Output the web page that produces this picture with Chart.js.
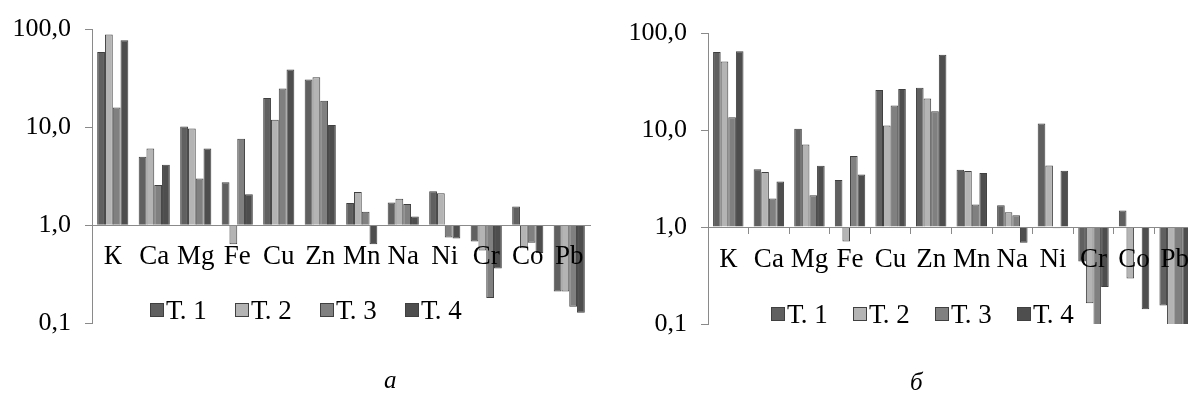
<!DOCTYPE html>
<html>
<head>
<meta charset="utf-8">
<script src="https://cdn.jsdelivr.net/npm/chart.js@4.4.1/dist/chart.umd.min.js"></script>
<style>
  html, body { margin: 0; padding: 0; background: #fff; }
  body { width: 1188px; height: 397px; overflow: hidden; position: relative; font-family: "Liberation Serif", serif; }
  .box { position: absolute; top: 0; height: 397px; }
  #boxA { left: 0; width: 600px; }
  #boxB { left: 616px; width: 584px; }
  .legend { position: absolute; display: flex; font-size: 27px; color: #000; line-height: 28px; }
  .legend .item { display: flex; align-items: center; }
  .legend .mark { width: 12px; height: 12px; border: 1px solid #404040; margin-right: 2px; }
  #legendA { left: 150px; top: 296px; }
  #legendA .item { width: 85px; }
  #legendB { left: 771px; top: 300px; }
  #legendB .item { width: 82px; }
  .caption { position: absolute; font-size: 25px; font-style: italic; }
  #capA { left: 384px; top: 366px; }
  #capB { left: 910px; top: 368px; }
</style>
</head>
<body>
<div class="box" id="boxA"><canvas id="chartA"></canvas></div>
<div class="box" id="boxB"><canvas id="chartB"></canvas></div>
<div class="legend" id="legendA"></div>
<div class="legend" id="legendB"></div>
<div class="caption" id="capA">а</div>
<div class="caption" id="capB">б</div>
<script>
// категории (элементы)
const elements = ['К', 'Ca', 'Mg', 'Fe', 'Cu', 'Zn', 'Mn', 'Na', 'Ni', 'Cr', 'Co', 'Pb'];
const seriesNames = ['Т. 1', 'Т. 2', 'Т. 3', 'Т. 4'];

// подписи логарифмической оси
const tickValues = [0.1, 1, 10, 100];
const tickLabels = ['0,1', '1,0', '10,0', '100,0'];

// рисунок а
const a_t1 = [59, 5.0, 10.2, 2.75, 20, 30.9, 1.69, 1.71, 2.23, 0.68, 1.55, 0.21];
const a_t2 = [89, 6.1, 9.75, 0.64, 12, 32.6, 2.19, 1.86, 2.12, 0.55, 0.58, 0.21];
const a_t3 = [16, 2.58, 3.0, 7.67, 25, 18.7, 1.37, 1.65, 0.75, 0.18, 0.66, 0.147];
const a_t4 = [78, 4.15, 6.1, 2.07, 39, 10.6, 0.64, 1.23, 0.73, 0.36, 0.52, 0.127];

// рисунок б
const b_t1 = [63.7, 3.95, 10.3, 3.05, 25.9, 27.2, 3.9, 1.68, 11.7, 0.44, 1.48, 0.155];
const b_t2 = [50.7, 3.7, 7.1, 0.71, 11.1, 21.1, 3.77, 1.42, 4.31, 0.164, 0.295, 0.09];
const b_t3 = [13.5, 1.97, 2.13, 5.38, 17.9, 15.6, 1.71, 1.32, 0.97, 0.09, 1.0, 0.09];
const b_t4 = [64.7, 2.95, 4.28, 3.48, 26.5, 59.8, 3.6, 0.69, 3.8, 0.24, 0.142, 0.09];

const fills = ['#606060', '#b4b4b4', '#808080', '#4e4e4e'];
const axisColor = '#8a8a8a';

Chart.defaults.font.family = '"Liberation Serif", serif';
Chart.defaults.color = '#000';

function makeChart(id, series, pad, withTicks) {
  return new Chart(document.getElementById(id), {
    type: 'bar',
    data: {
      labels: elements,
      datasets: series.map((vals, i) => ({
        label: seriesNames[i],
        data: vals,
        base: 1,
        backgroundColor: fills[i],
        borderColor: '#404040',
        borderWidth: 1,
        barPercentage: 1.0,
        categoryPercentage: 0.75
      }))
    },
    options: {
      responsive: true,
      maintainAspectRatio: false,
      animation: false,
      layout: { padding: pad },
      plugins: { legend: { display: false }, tooltip: { enabled: false } },
      scales: {
        x: {
          // ось категорий проходит через 1,0, подписи поверх столбцов
          position: { y: 1 },
          border: { display: true, color: axisColor, width: 1, z: 1 },
          grid: {
            drawOnChartArea: false,
            drawTicks: withTicks,
            tickLength: 6,
            color: axisColor,
            offset: true,
            z: 1
          },
          ticks: { font: { size: 27 }, padding: withTicks ? 11 : 16, maxRotation: 0, autoSkip: false, z: 1 }
        },
        y: {
          type: 'logarithmic',
          min: 0.1,
          max: 100,
          border: { display: true, color: axisColor, width: 1 },
          grid: { drawOnChartArea: false, drawTicks: true, tickLength: 7, color: axisColor },
          ticks: {
            font: { size: 26 },
            padding: 14,
            callback: (value, index) => tickLabels[index]
          },
          afterBuildTicks: (scale) => {
            scale.ticks = tickValues.map(v => ({ value: v }));
          },
          afterFit: (scale) => { scale.width = 92; }
        }
      }
    }
  });
}

function makeLegend(id) {
  const box = document.getElementById(id);
  seriesNames.forEach((name, i) => {
    const item = document.createElement('span');
    item.className = 'item';
    const mark = document.createElement('span');
    mark.className = 'mark';
    mark.style.background = fills[i];
    const txt = document.createElement('span');
    txt.textContent = name;
    item.appendChild(mark);
    item.appendChild(txt);
    box.appendChild(item);
  });
}

makeChart('chartA', [a_t1, a_t2, a_t3, a_t4], { top: 27, bottom: 74, right: 10, left: 0 }, false);
makeChart('chartB', [b_t1, b_t2, b_t3, b_t4], { top: 33, bottom: 73, right: 2, left: 0 }, true);
makeLegend('legendA');
makeLegend('legendB');
</script>
</body>
</html>
